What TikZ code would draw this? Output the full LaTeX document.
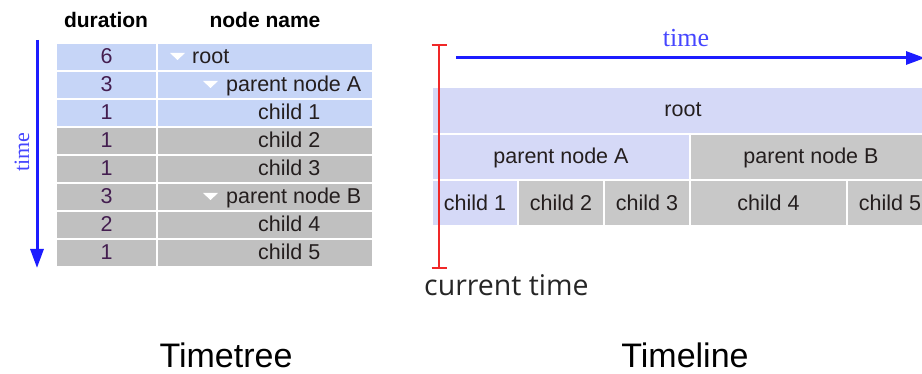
\documentclass[tikz,border=0pt]{standalone}
\usepackage{fontspec}
\setmainfont{Liberation Sans}
\newfontfamily\labelserif{Liberation Serif}
\newfontfamily\noteface{Open Sans}
\usetikzlibrary{arrows.meta}

\definecolor{rowblue}{RGB}{198,213,247}
\definecolor{rowgray}{RGB}{192,192,192}
\definecolor{barblue}{RGB}{213,217,247}
\definecolor{bargray}{RGB}{200,200,200}
\definecolor{txt}{RGB}{36,30,30}
\definecolor{durtxt}{RGB}{68,30,80}
\definecolor{axisblue}{RGB}{28,28,255}
\definecolor{axislabel}{RGB}{70,70,255}
\definecolor{markred}{RGB}{240,40,40}

\begin{document}
\begin{tikzpicture}[x=1pt,y=-1pt,
  cell/.style={draw=none, inner sep=0pt, outer sep=0pt, anchor=north west},
  tabtext/.style={inner sep=0pt, text=txt, font=\fontsize{21.5}{25}\selectfont},
  headtext/.style={inner sep=0pt, text=black, font=\fontsize{21}{25}\selectfont\bfseries, anchor=base},
  bartext/.style={inner sep=0pt, text=txt, font=\fontsize{21.5}{25}\selectfont, anchor=base},
  opener/.style={fill=white, draw=none},
  axis/.style={draw=axisblue, line width=3pt, -{Triangle[length=19pt,width=13pt]}},
  title/.style={inner sep=0pt, anchor=base, font=\fontsize{34}{40}\selectfont}
]
\useasboundingbox (0,0) rectangle (922,374);

% ---------- Timetree: indented table ----------
\node[headtext] (hdur) at (106,28) {duration};
\node[headtext] (hname) at (265,28) {node name};

\foreach \i/\d/\c/\name/\ind in {
    0/6/rowblue/root/192,
    1/3/rowblue/parent node A/226,
    2/1/rowblue/child 1/258,
    3/1/rowgray/child 2/258,
    4/1/rowgray/child 3/258,
    5/3/rowgray/parent node B/226,
    6/2/rowgray/child 4/258,
    7/1/rowgray/child 5/258} {
  \pgfmathsetmacro{\top}{44+28*\i}
  \node[cell, fill=\c, minimum width=99pt, minimum height=26.5pt] (dur\i) at (57,\top) {};
  \node[cell, fill=\c, minimum width=214pt, minimum height=26.5pt] (nm\i) at (158,\top) {};
  \node[tabtext, text=durtxt, anchor=base] (durlbl\i) at (106.5,\top+20) {\d};
  \node[tabtext, anchor=base west] (nmlbl\i) at (\ind,\top+20) {\name};
}

% expand/collapse markers of the tree rows
\fill[opener] (170,53) -- (185,53) -- (177.5,60) -- cycle;
\fill[opener] (203,81) -- (218,81) -- (210.5,88) -- cycle;
\fill[opener] (203,193) -- (218,193) -- (210.5,200) -- cycle;

% vertical time axis
\coordinate (tt0) at (37,40);
\coordinate (tt1) at (37,268);
\draw[axis] (tt0) -- (tt1);
\node[inner sep=0pt, rotate=90, text=axislabel, font=\labelserif\fontsize{22}{26}\selectfont] (ttime) at (22,152) {time};

% ---------- Timeline: nested bars ----------
\begin{scope}
\clip (0,0) rectangle (922,374);
\node[cell, fill=barblue, minimum width=506pt, minimum height=45pt] (broot) at (433,88) {};
\node[cell, fill=barblue, minimum width=256pt, minimum height=44pt] (bpa) at (433,135) {};
\node[cell, fill=bargray, minimum width=248pt, minimum height=44pt] (bpb) at (691,135) {};
\node[cell, fill=barblue, minimum width=84pt, minimum height=44pt] (bc1) at (433,181) {};
\node[cell, fill=bargray, minimum width=84pt, minimum height=44pt] (bc2) at (519,181) {};
\node[cell, fill=bargray, minimum width=84pt, minimum height=44pt] (bc3) at (605,181) {};
\node[cell, fill=bargray, minimum width=155pt, minimum height=44pt] (bc4) at (691,181) {};
\node[cell, fill=bargray, minimum width=84pt, minimum height=44pt] (bc5) at (848,181) {};

\node[bartext] (lroot) at (683,117) {root};
\node[bartext] (lpa) at (561,164) {parent node A};
\node[bartext] (lpb) at (811,164) {parent node B};
\node[bartext] (lc1) at (475,211) {child 1};
\node[bartext] (lc2) at (561,211) {child 2};
\node[bartext] (lc3) at (647,211) {child 3};
\node[bartext] (lc4) at (768.5,211) {child 4};
\node[bartext] (lc5) at (890,211) {child 5};

% horizontal time axis
\coordinate (tl0) at (456,58);
\coordinate (tl1) at (925,58);
\draw[axis] (tl0) -- (tl1);
\end{scope}
\node[inner sep=0pt, anchor=base, text=axislabel, font=\labelserif\fontsize{26}{30}\selectfont] (ltime) at (686,47) {time};

% current-time marker
\coordinate (ct0) at (439,45);
\coordinate (ct1) at (439,268);
\draw[markred, line width=1.5pt] (ct0) -- (ct1);
\draw[markred, line width=1.5pt] ([xshift=-7.5pt]ct0) -- ([xshift=7.5pt]ct0);
\draw[markred, line width=1.5pt] ([xshift=-7.5pt]ct1) -- ([xshift=7.5pt]ct1);
\node[inner sep=0pt, anchor=base west, text=black!85, font=\noteface\fontsize{28.5}{33}\selectfont] (lcur) at (424,296) {current time};

% ---------- captions ----------
\node[title] (capa) at (226,367) {Timetree};
\node[title] (capb) at (685,367) {Timeline};
\end{tikzpicture}
\end{document}
